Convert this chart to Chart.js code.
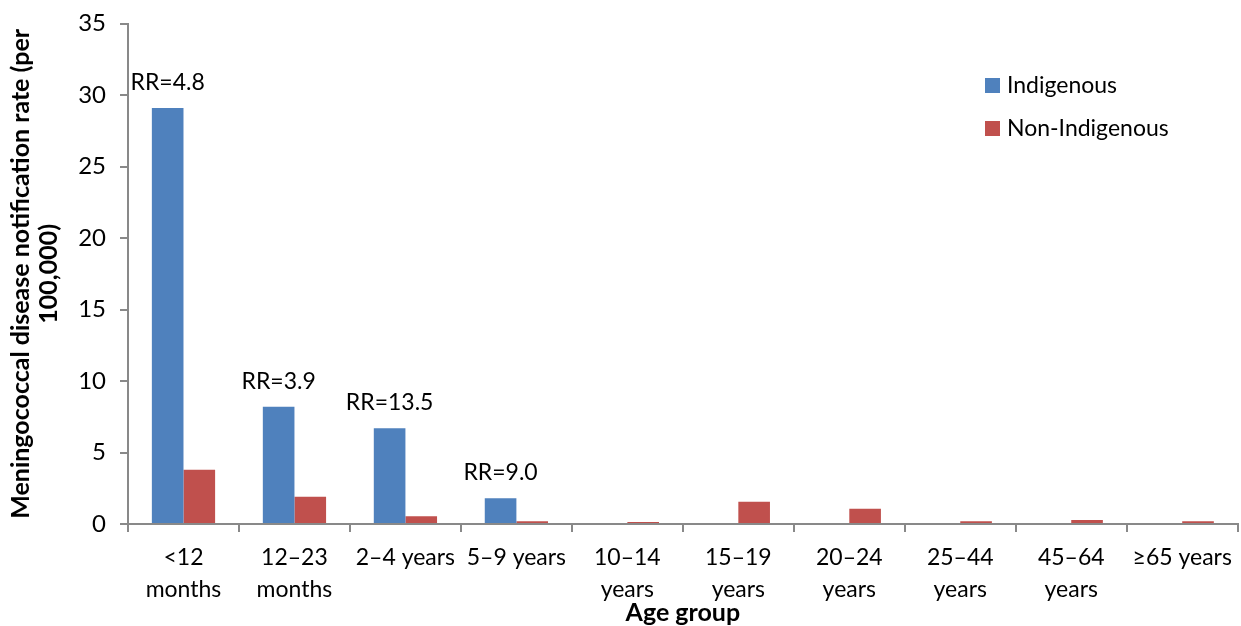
<!DOCTYPE html>
<html>
<head>
<meta charset="utf-8">
<script src="https://cdn.jsdelivr.net/npm/chart.js@4/dist/chart.umd.min.js"></script>
<style>
  html, body { margin: 0; padding: 0; background: #fff; }
  #wrap { width: 1241px; height: 626px; position: relative; }
</style>
</head>
<body>
<div id="wrap"><canvas id="myChart"></canvas></div>
<script>
const ageGroups = [
    ["<12", "months"], ["12\u201323", "months"], "2\u20134 years", "5\u20139 years",
    ["10\u201314", "years"], ["15\u201319", "years"], ["20\u201324", "years"],
    ["25\u201344", "years"], ["45\u201364", "years"], "\u226565 years"
];
const indigenousRates = [29.1, 8.2, 6.7, 1.8, 0, 0, 0, 0, 0, 0];
const nonIndigenousRates = [3.8, 1.9, 0.55, 0.2, 0.14, 1.55, 1.07, 0.2, 0.28, 0.2];
const rrLabels = ["RR=4.8", "RR=3.9", "RR=13.5", "RR=9.0", "", "", "", "", "", ""];
const seriesNames = ["Indigenous", "Non-Indigenous"];
const seriesColors = ["#4F81BD", "#C0504D"];

const fontName = "Lato";
const axisGrey = "#898989";

// RR text over the Indigenous bars
const rrPlugin = {
    id: "rrPlugin",
    afterDatasetsDraw(chart){
        const ctx = chart.ctx;
        const meta = chart.getDatasetMeta(0);
        ctx.save();
        ctx.font = "23px " + fontName;
        ctx.fillStyle = "#000";
        ctx.textAlign = "center";
        ctx.textBaseline = "alphabetic";
        for(let i = 0; i < rrLabels.length; i++){
            if(!rrLabels[i]) continue;
            const bar = meta.data[i];
            ctx.fillText(rrLabels[i], bar.x, bar.y - 18);
        }
        ctx.restore();
    }
};

// legend drawn inside the plot, top right
const legendPlugin = {
    id: "legendPlugin",
    afterDraw(chart){
        const ctx = chart.ctx;
        ctx.save();
        ctx.font = "23px " + fontName;
        ctx.textBaseline = "middle";
        ctx.textAlign = "left";
        for(let i = 0; i < seriesNames.length; i++){
            const y = 85 + i * 43;
            ctx.fillStyle = seriesColors[i];
            ctx.fillRect(985, y - 7, 15, 15);
            ctx.fillStyle = "#000";
            ctx.fillText(seriesNames[i], 1007, y + 1);
        }
        ctx.restore();
    }
};

const ctx = document.getElementById("myChart").getContext("2d");
const myChart = new Chart(ctx, {
    type: "bar",
    data: {
        labels: ageGroups,
        datasets: [{
            label: seriesNames[0],
            data: indigenousRates,
            backgroundColor: seriesColors[0],
            categoryPercentage: 0.57,
            barPercentage: 1
        }, {
            label: seriesNames[1],
            data: nonIndigenousRates,
            backgroundColor: seriesColors[1],
            categoryPercentage: 0.57,
            barPercentage: 1
        }]
    },
    options: {
        responsive: true,
        maintainAspectRatio: false,
        animation: false,
        layout: { padding: { top: 18, right: 3, left: 0, bottom: 0 } },
        plugins: {
            legend: { display: false },
            tooltip: { enabled: false }
        },
        scales: {
            x: {
                grid: {
                    offset: true,
                    drawOnChartArea: false,
                    drawTicks: true,
                    tickLength: 8,
                    color: axisGrey,
                    lineWidth: 2
                },
                border: { color: axisGrey, width: 2 },
                ticks: {
                    color: "#000",
                    font: { family: fontName, size: 23, lineHeight: 1.42 },
                    padding: 9,
                    maxRotation: 0,
                    autoSkip: false
                },
                title: {
                    display: true,
                    text: "Age group",
                    color: "#000",
                    font: { family: fontName, size: 25, weight: "bold", lineHeight: 1 },
                    padding: { top: 0, bottom: 1 }
                },
                afterFit(scale){ scale.height = 102; }
            },
            y: {
                min: 0,
                max: 35,
                ticks: {
                    stepSize: 5,
                    color: "#000",
                    font: { family: fontName, size: 24, lineHeight: 0.8 },
                    padding: 14
                },
                grid: {
                    drawOnChartArea: false,
                    drawTicks: true,
                    tickLength: 8,
                    color: axisGrey,
                    lineWidth: 2
                },
                border: { color: axisGrey, width: 2 },
                title: {
                    display: true,
                    text: ["Meningococcal disease notification rate (per", "100,000)"],
                    color: "#000",
                    font: { family: fontName, size: 25, weight: "bold", lineHeight: 1.12 },
                    padding: { top: 7, bottom: 0 }
                },
                afterFit(scale){ scale.width = 128; }
            }
        }
    },
    plugins: [rrPlugin, legendPlugin]
});
</script>
</body>
</html>
